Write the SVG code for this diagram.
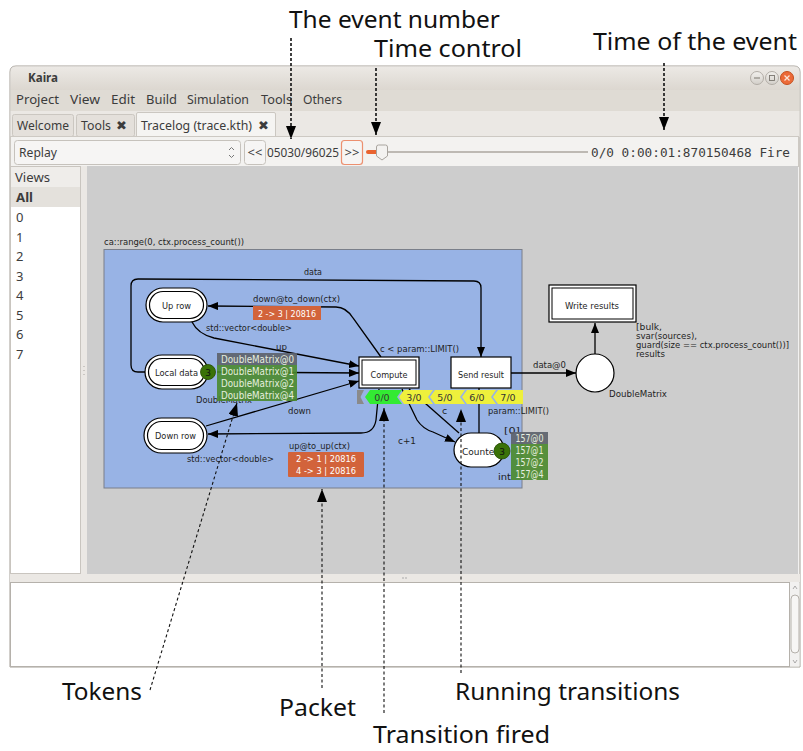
<svg xmlns="http://www.w3.org/2000/svg" width="803" height="751" viewBox="0 0 803 751">
  <style>
    .ui { font-family: "Noto Sans", "DejaVu Sans", sans-serif; font-size: 13px; fill: #3c3c3c; }
    .mono { font-family: "DejaVu Sans Mono", "Liberation Mono", monospace; font-size: 12.6px; fill: #3c3c3c; }
    .dg { font-family: "DejaVu Sans", sans-serif; font-size: 9.5px; fill: #1e1e1e; }
    .small { font-size: 9px; }
    .mid { text-anchor: middle; }
    .ann { font-family: "Noto Sans", "DejaVu Sans", sans-serif; font-size: 24px; fill: #111; }
    .edge { fill: none; stroke: #000; stroke-width: 1.3; }
    .place { fill: #fff; stroke: #000; stroke-width: 1.2; }
    .trans { fill: #fff; stroke: #000; stroke-width: 1.2; }
    .tokgrey { fill: #5d636d; opacity: 0.92; }
    .tokgreen { fill: #4a8a2c; opacity: 0.9; }
    .toktxt { font-family: "DejaVu Sans", sans-serif; font-size: 10px; fill: #e6eedf; }
    .packet { fill: #d2633b; }
    .pkttxt { font-family: "DejaVu Sans", sans-serif; font-size: 9.5px; fill: #fff; text-anchor: middle; }
    .count { fill: #3a7208; stroke: #244a00; stroke-width: 0.8; }
    .cnttxt { font-family: "DejaVu Sans", sans-serif; font-size: 9px; fill: #111; text-anchor: middle; }
    .run { fill: #eef03c; }
    .runtxt { font-family: "DejaVu Sans", sans-serif; font-size: 9.5px; fill: #333; text-anchor: middle; }
    .dash-top { fill: none; stroke: #111; stroke-width: 1.6; stroke-dasharray: 3 2; }
    .dash-bot { fill: none; stroke: #111; stroke-width: 1.1; stroke-dasharray: 3 2.5; }
    .btn { fill: #f6f5f4; stroke: #c6c2bc; stroke-width: 1; }
  </style>
  <defs>
    <marker id="arr" viewBox="0 0 10 8" refX="10" refY="4" markerWidth="10" markerHeight="8" orient="auto" markerUnits="userSpaceOnUse">
      <path d="M0,0 L10,4 L0,8 z" fill="#000"/>
    </marker>
    <marker id="ann" viewBox="0 0 13 10" refX="13" refY="5" markerWidth="13" markerHeight="10" orient="auto" markerUnits="userSpaceOnUse">
      <path d="M0,0 L13,5 L0,10 z" fill="#000"/>
    </marker>
    <linearGradient id="titlebar" x1="0" y1="0" x2="0" y2="1">
      <stop offset="0" stop-color="#ece9e5"/>
      <stop offset="1" stop-color="#dcd7d0"/>
    </linearGradient>
    <linearGradient id="winbtn" x1="0" y1="0" x2="0" y2="1">
      <stop offset="0" stop-color="#f2f0ed"/>
      <stop offset="1" stop-color="#d3cfc9"/>
    </linearGradient>
  </defs>

  <rect x="0" y="0" width="803" height="751" fill="#fff"/>

  <!-- application window -->
  <g id="window">
    <path d="M10,72 Q10,66 16,66 L794,66 Q800,66 800,72 L800,667 L10,667 z" fill="#f2f1f0" stroke="#a49f97" stroke-width="1"/>
    <path d="M10.5,72 Q10.5,66.5 16,66.5 L794,66.5 Q799.5,66.5 799.5,72 L799.5,90 L10.5,90 z" fill="url(#titlebar)"/>
    <rect x="10.5" y="90" width="789" height="21" fill="#dfdbd4"/>
    <text class="ui" x="28" y="82" font-weight="bold" font-size="12.5" textLength="30" lengthAdjust="spacingAndGlyphs">Kaira</text>
    <circle cx="757" cy="78" r="6.5" fill="url(#winbtn)" stroke="#b2ada6"/>
    <line x1="754" y1="78" x2="760" y2="78" stroke="#7a766f" stroke-width="1"/>
    <circle cx="772" cy="78" r="6.5" fill="url(#winbtn)" stroke="#b2ada6"/>
    <rect x="769.5" y="75.5" width="5" height="5" fill="none" stroke="#7a766f" stroke-width="0.9"/>
    <circle cx="787" cy="78" r="6.5" fill="#ec6a38" stroke="#c4501f"/>
    <path d="M784.5,75.5 L789.5,80.5 M789.5,75.5 L784.5,80.5" stroke="#fbe3d8" stroke-width="1.3"/>

    <!-- menu -->
    <text class="ui" x="16" y="104" textLength="43" lengthAdjust="spacingAndGlyphs">Project</text>
    <text class="ui" x="70" y="104" textLength="30" lengthAdjust="spacingAndGlyphs">View</text>
    <text class="ui" x="111" y="104" textLength="24" lengthAdjust="spacingAndGlyphs">Edit</text>
    <text class="ui" x="146" y="104" textLength="31" lengthAdjust="spacingAndGlyphs">Build</text>
    <text class="ui" x="187" y="104" textLength="62" lengthAdjust="spacingAndGlyphs">Simulation</text>
    <text class="ui" x="261" y="104" textLength="31" lengthAdjust="spacingAndGlyphs">Tools</text>
    <text class="ui" x="303" y="104" textLength="39" lengthAdjust="spacingAndGlyphs">Others</text>

    <!-- tabs -->
    <rect x="10.5" y="111" width="789" height="26" fill="#ebe8e4"/>
    <rect x="12.5" y="114.5" width="61" height="22" rx="2" fill="#e4e0db" stroke="#cbc7c1"/>
    <text class="ui" x="17" y="130" fill="#5b5b5b" textLength="52" lengthAdjust="spacingAndGlyphs">Welcome</text>
    <rect x="76.5" y="114.5" width="58" height="22" rx="2" fill="#e4e0db" stroke="#cbc7c1"/>
    <text class="ui" x="81" y="130" fill="#5b5b5b" textLength="30" lengthAdjust="spacingAndGlyphs">Tools</text>
    <text class="ui" x="116" y="130" font-size="12" fill="#555">✖</text>
    <path d="M136.5,137 L136.5,114 Q136.5,112.5 138,112.5 L274,112.5 Q275.5,112.5 275.5,114 L275.5,137" fill="#f5f4f2" stroke="#cbc7c1"/>
    <text class="ui" x="141" y="130" textLength="111" lengthAdjust="spacingAndGlyphs">Tracelog (trace.kth)</text>
    <text class="ui" x="258" y="130" font-size="12" fill="#555">✖</text>

    <!-- toolbar -->
    <rect x="10.5" y="136.5" width="788" height="30" fill="#f3f2f0" stroke="#cdc9c3"/>
    <rect x="14.5" y="140.5" width="226" height="24" rx="3" class="btn"/>
    <text class="ui" x="19" y="157" textLength="38" lengthAdjust="spacingAndGlyphs">Replay</text>
    <path d="M229,150 L231.5,147.5 L234,150 M229,155 L231.5,157.5 L234,155" fill="none" stroke="#777" stroke-width="1"/>
    <rect x="244.5" y="140.5" width="21" height="24" rx="3" class="btn"/>
    <text class="ui" x="255" y="156.5" text-anchor="middle" font-size="10.5">&lt;&lt;</text>
    <text class="ui" x="267" y="157" textLength="72" lengthAdjust="spacingAndGlyphs">05030/96025</text>
    <rect x="341.5" y="140.5" width="21" height="24" rx="3" fill="#f6f5f4" stroke="#ec9070" stroke-width="1.2"/>
    <text class="ui" x="352" y="156.5" text-anchor="middle" font-size="10.5">&gt;&gt;</text>
    <line x1="368" y1="152" x2="588" y2="152" stroke="#bdb9b3" stroke-width="2"/>
    <line x1="368" y1="152" x2="378" y2="152" stroke="#e9632f" stroke-width="4" stroke-linecap="round"/>
    <path d="M376.5,147 Q376.5,145 378.5,145 L385.5,145 Q387.5,145 387.5,147 L387.5,156 L382,160 L376.5,156 z" fill="#f3f2f0" stroke="#a8a49e"/>
    <text class="mono" x="591" y="157" textLength="199" lengthAdjust="spacingAndGlyphs">0/0 0:00:01:870150468 Fire</text>

    <!-- views sidebar -->
    <rect x="10.5" y="166.5" width="70" height="407" fill="#fff" stroke="#c9c5bf"/>
    <rect x="11" y="167" width="69" height="20" fill="#efedea"/>
    <text class="ui" x="15" y="182" fill="#4c4c4c" textLength="35" lengthAdjust="spacingAndGlyphs">Views</text>
    <rect x="11" y="187" width="69" height="20" fill="#e4e1dc"/>
    <text class="ui" x="16" y="202" font-weight="bold" textLength="17" lengthAdjust="spacingAndGlyphs">All</text>
    <text class="ui" x="16" y="222">0</text>
    <text class="ui" x="16" y="242">1</text>
    <text class="ui" x="16" y="261">2</text>
    <text class="ui" x="16" y="281">3</text>
    <text class="ui" x="16" y="300">4</text>
    <text class="ui" x="16" y="320">5</text>
    <text class="ui" x="16" y="339">6</text>
    <text class="ui" x="16" y="359">7</text>
    <rect x="81" y="166" width="6" height="408" fill="#ebe8e4"/>
    <path d="M84,366 v1 M84,370 v1 M84,374 v1" stroke="#a9a5a0" stroke-width="1"/>

    <!-- net canvas -->
    <rect x="87" y="166" width="711" height="408" fill="#cdcdcd"/>

    <!-- console panel -->
    <rect x="10" y="574" width="790" height="8" fill="#ebe8e4"/>
    <path d="M403,577 v2 M406,577 v2" stroke="#aaa" stroke-width="1"/>
    <rect x="10.5" y="582.5" width="779" height="84" fill="#fff" stroke="#b5b1ab"/>
    <rect x="790" y="582.5" width="9.5" height="84" fill="#f2f1f0"/>
    <rect x="791" y="595" width="8" height="58" rx="4" fill="#f7f6f5" stroke="#b5b1ab"/>
    <path d="M793,589 L795,586 L797,589 M793,660 L795,663 L797,660" fill="none" stroke="#999" stroke-width="0.8"/>
  </g>

  <!-- process region -->
  <g id="region">
    <text class="dg" x="104" y="245" textLength="140" lengthAdjust="spacingAndGlyphs">ca::range(0, ctx.process_count())</text>
    <rect x="104" y="249.5" width="418" height="238.5" fill="#98b3e5" stroke="#7a7f8a" stroke-width="1"/>
  </g>

  <!-- arcs -->
  <g id="connectors">
    <path class="edge" d="M146,372 L138,372 Q131,372 131,365 L131,286 Q131,279 138,279 L474,281 Q481,281 481,288 L481,357" marker-end="url(#arr)"/>
    <text class="dg" x="304" y="275" textLength="18" lengthAdjust="spacingAndGlyphs">data</text>

    <path class="edge" d="M381,357 L353,318 Q346,307 336,307 L208,306" marker-end="url(#arr)"/>
    <text class="dg" x="253" y="302" textLength="87" lengthAdjust="spacingAndGlyphs">down@to_down(ctx)</text>
    <rect class="packet" x="253" y="306" width="68" height="14"/>
    <text class="pkttxt" x="287" y="316.5" textLength="58" lengthAdjust="spacingAndGlyphs">2 -&gt; 3 | 20816</text>

    <path class="edge" d="M192,322 Q198,334 214,338 L359,366" marker-end="url(#arr)"/>
    <text class="dg" x="206" y="331" textLength="86" lengthAdjust="spacingAndGlyphs">std::vector&lt;double&gt;</text>
    <text class="dg" x="276" y="350" textLength="11" lengthAdjust="spacingAndGlyphs">up</text>

    <path class="edge" d="M217,372 L359,373" marker-end="url(#arr)"/>
    <text class="dg" x="196" y="403" textLength="56" lengthAdjust="spacingAndGlyphs">DoubleMatrix</text>

    <path class="edge" d="M206,426 L359,381" marker-end="url(#arr)"/>
    <text class="dg" x="288" y="414" textLength="23" lengthAdjust="spacingAndGlyphs">down</text>

    <path class="edge" d="M379,389 L376,420 Q374,433 361,433 L208,434" marker-end="url(#arr)"/>
    <text class="dg" x="289" y="449" textLength="61" lengthAdjust="spacingAndGlyphs">up@to_up(ctx)</text>
    <rect class="packet" x="288" y="452" width="76" height="25" rx="1"/>
    <text class="pkttxt" x="326" y="462" textLength="60" lengthAdjust="spacingAndGlyphs">2 -&gt; 1 | 20816</text>
    <text class="pkttxt" x="326" y="473.5" textLength="60" lengthAdjust="spacingAndGlyphs">4 -&gt; 3 | 20816</text>
    <text class="dg" x="187" y="462" textLength="87" lengthAdjust="spacingAndGlyphs">std::vector&lt;double&gt;</text>

    <path class="edge" d="M402,389 L417,420 Q423,429 433,432 L455,442" marker-end="url(#arr)"/>
    <text class="dg" x="398" y="444" textLength="18" lengthAdjust="spacingAndGlyphs">c+1</text>

    <path class="edge" d="M459,433 L409,389"/>
    <text class="dg" x="442" y="414">c</text>

    <path class="edge" d="M479,388 L479,434"/>
    <text class="dg" x="488" y="414" textLength="61" lengthAdjust="spacingAndGlyphs">param::LIMIT()</text>
    <text class="dg" x="504" y="434" textLength="16" lengthAdjust="spacingAndGlyphs">[0]</text>

    <text class="dg" x="380" y="352" textLength="79" lengthAdjust="spacingAndGlyphs">c &lt; param::LIMIT()</text>

    <path class="edge" d="M511,373 L576,373" marker-end="url(#arr)"/>
    <text class="dg" x="533" y="368" textLength="33" lengthAdjust="spacingAndGlyphs">data@0</text>

    <path class="edge" d="M595,354 L595,323" marker-end="url(#arr)"/>
    <text class="dg small" x="636" y="330" textLength="26" lengthAdjust="spacingAndGlyphs">[bulk,</text>
    <text class="dg small" x="636" y="339" textLength="61" lengthAdjust="spacingAndGlyphs">svar(sources),</text>
    <text class="dg small" x="636" y="348" textLength="153" lengthAdjust="spacingAndGlyphs">guard(size == ctx.process_count())]</text>
    <text class="dg small" x="636" y="357" textLength="29" lengthAdjust="spacingAndGlyphs">results</text>
  </g>

  <!-- places -->
  <g id="place-up-row">
    <rect class="place" x="146" y="288" width="61" height="34" rx="17"/>
    <rect x="149.5" y="291.5" width="54" height="27" rx="13.5" fill="none" stroke="#000" stroke-width="1.2"/>
    <text class="dg mid" x="176.5" y="309" textLength="29" lengthAdjust="spacingAndGlyphs">Up row</text>
  </g>

  <g id="place-local-data">
    <rect class="place" x="145" y="355" width="63" height="34" rx="17"/>
    <rect x="148.5" y="358.5" width="56" height="27" rx="13.5" fill="none" stroke="#000" stroke-width="1.2"/>
    <text class="dg mid" x="176.5" y="376" textLength="43" lengthAdjust="spacingAndGlyphs">Local data</text>
    <circle class="count" cx="208" cy="372" r="7.5"/>
    <text class="cnttxt" x="208" y="375.5">3</text>
    <g id="tokens-local-data">
      <rect class="tokgrey" x="217" y="353" width="80" height="12"/>
      <rect class="tokgreen" x="217" y="365" width="80" height="36"/>
      <text class="toktxt" x="221" y="362.5" textLength="73" lengthAdjust="spacingAndGlyphs">DoubleMatrix@0</text>
      <text class="toktxt" x="221" y="374.5" textLength="73" lengthAdjust="spacingAndGlyphs">DoubleMatrix@1</text>
      <text class="toktxt" x="221" y="386.5" textLength="73" lengthAdjust="spacingAndGlyphs">DoubleMatrix@2</text>
      <text class="toktxt" x="221" y="398.5" textLength="73" lengthAdjust="spacingAndGlyphs">DoubleMatrix@4</text>
    </g>
  </g>

  <g id="place-down-row">
    <rect class="place" x="144" y="418" width="63" height="35" rx="17.5"/>
    <rect x="147.5" y="421.5" width="56" height="28" rx="14" fill="none" stroke="#000" stroke-width="1.2"/>
    <text class="dg mid" x="175.5" y="439" textLength="41" lengthAdjust="spacingAndGlyphs">Down row</text>
  </g>

  <g id="place-counter">
    <rect class="place" x="454" y="433" width="50" height="34" rx="17"/>
    <text class="dg" x="462" y="455" textLength="36" lengthAdjust="spacingAndGlyphs">Counter</text>
    <circle class="count" cx="502" cy="451" r="8"/>
    <text class="cnttxt" x="502" y="454.5">3</text>
    <g id="tokens-counter">
      <rect class="tokgrey" x="511" y="432" width="37" height="12"/>
      <rect class="tokgreen" x="511" y="444" width="37" height="36"/>
      <text class="toktxt" x="529.5" y="441.5" text-anchor="middle" textLength="28" lengthAdjust="spacingAndGlyphs">157@0</text>
      <text class="toktxt" x="529.5" y="453.5" text-anchor="middle" textLength="28" lengthAdjust="spacingAndGlyphs">157@1</text>
      <text class="toktxt" x="529.5" y="465.5" text-anchor="middle" textLength="28" lengthAdjust="spacingAndGlyphs">157@2</text>
      <text class="toktxt" x="529.5" y="477.5" text-anchor="middle" textLength="28" lengthAdjust="spacingAndGlyphs">157@4</text>
    </g>
    <text class="dg" x="498" y="480" textLength="13" lengthAdjust="spacingAndGlyphs">int</text>
  </g>

  <g id="place-results">
    <circle class="place" cx="595" cy="373" r="19"/>
    <text class="dg" x="609" y="397" textLength="58" lengthAdjust="spacingAndGlyphs">DoubleMatrix</text>
  </g>

  <!-- transitions -->
  <g id="transition-compute">
    <rect class="trans" x="359" y="357" width="60" height="31"/>
    <rect x="362" y="360" width="54" height="25" fill="none" stroke="#000" stroke-width="1"/>
    <text class="dg mid" x="389" y="378" textLength="37" lengthAdjust="spacingAndGlyphs">Compute</text>
  </g>

  <g id="transition-send-result">
    <rect class="trans" x="451" y="357" width="60" height="31" stroke="#333"/>
    <text class="dg mid" x="481" y="378" textLength="46" lengthAdjust="spacingAndGlyphs">Send result</text>
  </g>

  <g id="transition-write-results">
    <rect class="trans" x="549" y="285" width="87" height="37"/>
    <rect x="552" y="288" width="81" height="31" fill="none" stroke="#000" stroke-width="1"/>
    <text class="dg mid" x="592" y="309" textLength="54" lengthAdjust="spacingAndGlyphs">Write results</text>
  </g>

  <!-- running transition strip under Compute -->
  <g id="running-strip">
    <polygon points="357,390 364,390 360.5,397 364,404 357,404" fill="#8a8a8a"/>
    <polygon points="365,397 370,390 402,390 397,397 402,404 370,404" fill="#33ea33"/>
    <text class="runtxt" x="382" y="401">0/0</text>
    <polygon class="run" points="399,397 404,390 433,390 428,397 433,404 404,404"/>
    <text class="runtxt" x="414" y="401">3/0</text>
    <polygon class="run" points="430,397 435,390 465,390 460,397 465,404 435,404"/>
    <text class="runtxt" x="445" y="401">5/0</text>
    <polygon class="run" points="462,397 467,390 496,390 491,397 496,404 467,404"/>
    <text class="runtxt" x="477" y="401">6/0</text>
    <polygon class="run" points="493,397 498,390 523,390 523,404 498,404"/>
    <text class="runtxt" x="508" y="401">7/0</text>
  </g>

  <!-- callouts -->
  <g id="callouts">
    <text class="ann" x="289" y="28" textLength="211" lengthAdjust="spacingAndGlyphs">The event number</text>
    <text class="ann" x="374" y="57" textLength="148" lengthAdjust="spacingAndGlyphs">Time control</text>
    <text class="ann" x="593" y="50" textLength="204" lengthAdjust="spacingAndGlyphs">Time of the event</text>
    <path class="dash-top" d="M291,38 L291,139" marker-end="url(#ann)"/>
    <path class="dash-top" d="M376,68 L376,135" marker-end="url(#ann)"/>
    <path class="dash-top" d="M664,63 L664,130" marker-end="url(#ann)"/>

    <path class="dash-bot" d="M150,690 L237,403" marker-end="url(#ann)"/>
    <path class="dash-bot" d="M322,688 L322,489" marker-end="url(#ann)"/>
    <path class="dash-bot" d="M384,713 L384,408" marker-end="url(#ann)"/>
    <path class="dash-bot" d="M461,673 L461,409" marker-end="url(#ann)"/>
    <text class="ann" x="62" y="700" font-size="25" textLength="80" lengthAdjust="spacingAndGlyphs">Tokens</text>
    <text class="ann" x="279" y="716" font-size="25" textLength="77" lengthAdjust="spacingAndGlyphs">Packet</text>
    <text class="ann" x="455" y="700" font-size="25" textLength="225" lengthAdjust="spacingAndGlyphs">Running transitions</text>
    <text class="ann" x="373" y="743" font-size="25" textLength="177" lengthAdjust="spacingAndGlyphs">Transition fired</text>
  </g>
</svg>
